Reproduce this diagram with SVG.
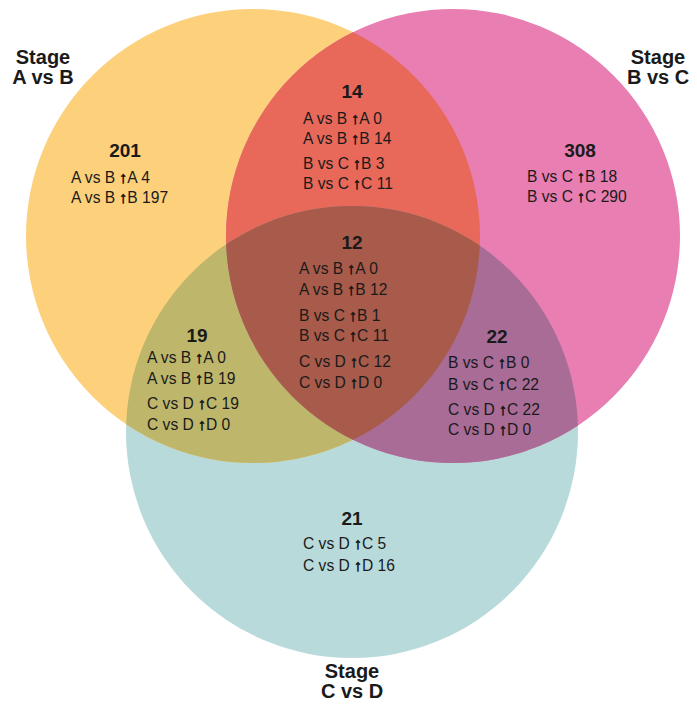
<svg xmlns="http://www.w3.org/2000/svg" width="697" height="708" viewBox="0 0 697 708">
<style>
text{font-family:"Liberation Sans",Arial,sans-serif;fill:#1a1a1a}
.t{font-size:20px;font-weight:bold;text-anchor:middle}
.n{font-size:19px;font-weight:bold;text-anchor:middle}
.l{font-size:15.6px}
.a{font-weight:bold;stroke:#1a1a1a;stroke-width:0.7px}
</style>
<defs>
<circle id="cA" cx="253" cy="236" r="227"/>
<circle id="cB" cx="453" cy="236" r="227"/>
<circle id="cC" cx="352" cy="432" r="226"/>
<clipPath id="clA"><use href="#cA"/></clipPath>
<clipPath id="clB"><use href="#cB"/></clipPath>
<clipPath id="clC"><use href="#cC"/></clipPath>
</defs>
<g id="sets">
<use href="#cC" fill="#B8DADA"/>
<use href="#cA" fill="#FDD07B"/>
<use href="#cB" fill="#E87EB1"/>
<g clip-path="url(#clA)"><use href="#cB" fill="#E8695A"/></g>
<g clip-path="url(#clA)"><use href="#cC" fill="#BDB66B"/></g>
<g clip-path="url(#clB)"><use href="#cC" fill="#A86C97"/></g>
<g clip-path="url(#clA)"><g clip-path="url(#clB)"><use href="#cC" fill="#A85B4A"/></g></g>
</g>
<g id="connectors"/>
<g id="labels">
<text class="t" x="43" y="64">Stage</text>
<text class="t" x="43" y="84">A vs B</text>
<text class="t" x="658" y="64">Stage</text>
<text class="t" x="658" y="84">B vs C</text>
<text class="t" x="352" y="678">Stage</text>
<text class="t" x="352" y="698">C vs D</text>
</g>
<g id="region-A">
<text class="n" x="125" y="157">201</text>
<text class="l" x="71" y="183">A vs B <tspan class="a">↑</tspan>A 4</text>
<text class="l" x="71" y="203">A vs B <tspan class="a">↑</tspan>B 197</text>
</g>
<g id="region-B">
<text class="n" x="580" y="157">308</text>
<text class="l" x="527" y="182">B vs C <tspan class="a">↑</tspan>B 18</text>
<text class="l" x="527" y="202">B vs C <tspan class="a">↑</tspan>C 290</text>
</g>
<g id="region-C">
<text class="n" x="352" y="525">21</text>
<text class="l" x="303" y="549">C vs D <tspan class="a">↑</tspan>C 5</text>
<text class="l" x="303" y="571">C vs D <tspan class="a">↑</tspan>D 16</text>
</g>
<g id="region-AB">
<text class="n" x="352" y="98">14</text>
<text class="l" x="303" y="124">A vs B <tspan class="a">↑</tspan>A 0</text>
<text class="l" x="303" y="144">A vs B <tspan class="a">↑</tspan>B 14</text>
<text class="l" x="303" y="169">B vs C <tspan class="a">↑</tspan>B 3</text>
<text class="l" x="303" y="189">B vs C <tspan class="a">↑</tspan>C 11</text>
</g>
<g id="region-ABC">
<text class="n" x="352" y="249">12</text>
<text class="l" x="299" y="274">A vs B <tspan class="a">↑</tspan>A 0</text>
<text class="l" x="299" y="295">A vs B <tspan class="a">↑</tspan>B 12</text>
<text class="l" x="299" y="321">B vs C <tspan class="a">↑</tspan>B 1</text>
<text class="l" x="299" y="341">B vs C <tspan class="a">↑</tspan>C 11</text>
<text class="l" x="299" y="367">C vs D <tspan class="a">↑</tspan>C 12</text>
<text class="l" x="299" y="388">C vs D <tspan class="a">↑</tspan>D 0</text>
</g>
<g id="region-AC">
<text class="n" x="197" y="342">19</text>
<text class="l" x="147" y="363">A vs B <tspan class="a">↑</tspan>A 0</text>
<text class="l" x="147" y="384">A vs B <tspan class="a">↑</tspan>B 19</text>
<text class="l" x="147" y="409">C vs D <tspan class="a">↑</tspan>C 19</text>
<text class="l" x="147" y="430">C vs D <tspan class="a">↑</tspan>D 0</text>
</g>
<g id="region-BC">
<text class="n" x="497" y="343">22</text>
<text class="l" x="448" y="368">B vs C <tspan class="a">↑</tspan>B 0</text>
<text class="l" x="448" y="390">B vs C <tspan class="a">↑</tspan>C 22</text>
<text class="l" x="448" y="415">C vs D <tspan class="a">↑</tspan>C 22</text>
<text class="l" x="448" y="435">C vs D <tspan class="a">↑</tspan>D 0</text>
</g>
</svg>
